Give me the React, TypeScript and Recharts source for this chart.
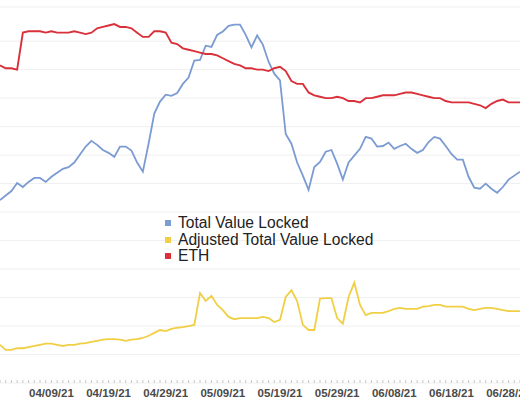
import { LineChart, Line, XAxis, YAxis, CartesianGrid, Legend } from 'recharts';

// daily dates 03/31/21 .. 06/30/21
const startDate = new Date(2021, 2, 31);
const dates: string[] = Array.from({ length: 92 }, (_, i) => {
  const d = new Date(startDate.getFullYear(), startDate.getMonth(), startDate.getDate() + i);
  const mm = String(d.getMonth() + 1).padStart(2, '0');
  const dd = String(d.getDate()).padStart(2, '0');
  return `${mm}/${dd}/21`;
});

const tickLabels = ['04/09/21', '04/19/21', '04/29/21', '05/09/21', '05/19/21', '05/29/21', '06/08/21', '06/18/21', '06/28/21'];

const seriesNames = ['Total Value Locked', 'Adjusted Total Value Locked', 'ETH'];

// $B
const tvl = [
  3.21, 3.29, 3.37, 3.51, 3.44, 3.53, 3.60, 3.60, 3.53, 3.62,
  3.69, 3.76, 3.79, 3.87, 4.01, 4.15, 4.25, 4.18, 4.09, 4.04,
  3.97, 4.15, 4.15, 4.08, 3.87, 3.71, 4.20, 4.73, 4.94, 5.06,
  5.04, 5.09, 5.25, 5.36, 5.66, 5.67, 5.92, 5.90, 6.11, 6.17,
  6.27, 6.29, 6.29, 6.11, 5.89, 6.10, 5.94, 5.64, 5.43, 5.31,
  4.37, 4.20, 3.87, 3.64, 3.39, 3.79, 3.88, 4.06, 4.09, 3.85,
  3.57, 3.87, 3.99, 4.11, 4.32, 4.29, 4.15, 4.16, 4.22, 4.11,
  4.16, 4.20, 4.11, 4.04, 4.09, 4.23, 4.32, 4.29, 4.16, 4.02,
  3.92, 3.92, 3.62, 3.43, 3.41, 3.50, 3.41, 3.34, 3.44, 3.57,
  3.64, 3.71,
];

// $B
const adjustedTvl = [
  0.67, 0.58, 0.58, 0.61, 0.61, 0.63, 0.65, 0.67, 0.69, 0.69,
  0.67, 0.65, 0.67, 0.67, 0.69, 0.70, 0.72, 0.74, 0.76, 0.77,
  0.77, 0.76, 0.74, 0.76, 0.77, 0.79, 0.83, 0.88, 0.93, 0.91,
  0.95, 0.97, 0.98, 1.00, 1.02, 1.58, 1.44, 1.53, 1.37, 1.28,
  1.16, 1.12, 1.14, 1.14, 1.14, 1.14, 1.16, 1.14, 1.07, 1.11,
  1.51, 1.63, 1.44, 1.02, 0.93, 0.93, 1.48, 1.49, 1.49, 1.14,
  1.04, 1.51, 1.76, 1.37, 1.19, 1.23, 1.23, 1.23, 1.26, 1.30,
  1.32, 1.30, 1.30, 1.30, 1.34, 1.35, 1.37, 1.37, 1.34, 1.34,
  1.34, 1.34, 1.30, 1.28, 1.30, 1.32, 1.32, 1.30, 1.28, 1.26,
  1.26, 1.26,
];

// M ETH
const eth = [
  2.23, 2.21, 2.21, 2.20, 2.46, 2.47, 2.47, 2.47, 2.46, 2.47,
  2.46, 2.46, 2.46, 2.47, 2.46, 2.45, 2.46, 2.49, 2.50, 2.51,
  2.52, 2.50, 2.50, 2.49, 2.46, 2.43, 2.43, 2.47, 2.47, 2.46,
  2.39, 2.38, 2.35, 2.34, 2.33, 2.32, 2.31, 2.31, 2.30, 2.28,
  2.26, 2.24, 2.23, 2.21, 2.21, 2.20, 2.20, 2.19, 2.21, 2.22,
  2.19, 2.12, 2.10, 2.10, 2.04, 2.02, 2.01, 2.00, 2.00, 2.01,
  2.00, 1.98, 1.98, 1.97, 2.00, 2.00, 2.01, 2.02, 2.02, 2.02,
  2.03, 2.04, 2.04, 2.03, 2.02, 2.01, 2.00, 2.00, 1.98, 1.97,
  1.97, 1.97, 1.97, 1.96, 1.95, 1.93, 1.96, 1.98, 1.99, 1.97,
  1.97, 1.97,
];

const usdTicks = [0, 0.5, 1, 1.5, 2, 2.5, 3, 3.5, 4, 4.5, 5, 5.5, 6, 6.5, 6.6];

const data = dates.map((date, i) => ({
  date,
  tvl: tvl[i],
  adjusted: adjustedTvl[i],
  eth: eth[i],
}));

const font = '"Liberation Sans", Arial, Helvetica, sans-serif';

const DateTick = (props: any) => {
  const { x, y, payload } = props;
  const showLabel = tickLabels.includes(payload.value);
  return (
    <g>
      <line x1={x} x2={x} y1={y - 3} y2={y} stroke="#c8c8c8" strokeWidth={1} />
      {showLabel && (
        <text x={x} y={y + 14} textAnchor="middle" fontSize={11.5} fontWeight={600} fill="#4a4a4a" fontFamily={font}>
          {payload.value}
        </text>
      )}
    </g>
  );
};

const LegendBox = (props: any) => {
  const items = [...(props.payload || [])].sort(
    (a: any, b: any) => seriesNames.indexOf(a.value) - seriesNames.indexOf(b.value)
  );
  return (
    <div style={{ fontFamily: font, fontSize: 15.6, color: '#222', lineHeight: '16.5px' }}>
      {items.map((entry: any) => (
        <div key={entry.value} style={{ display: 'flex', alignItems: 'center' }}>
          <span style={{ width: 6, height: 6, background: entry.color, marginRight: 7, display: 'inline-block' }} />
          {entry.value}
        </div>
      ))}
    </div>
  );
};

export default function App() {
  return (
    <div style={{ position: 'fixed', left: 0, top: 0, width: 520, height: 400, background: '#fff' }}>
      <LineChart width={520} height={400} data={data} margin={{ top: 7, right: 0, bottom: 0, left: 0 }}>
        <CartesianGrid vertical={false} stroke="#efefef" yAxisId="usd" />
        <XAxis
          dataKey="date"
          interval={0}
          axisLine={false}
          tickLine={false}
          tickSize={0}
          tickMargin={0}
          height={17}
          tick={<DateTick />}
        />
        <YAxis yAxisId="usd" hide domain={[0, 6.6]} ticks={usdTicks} />
        <YAxis yAxisId="eth" hide orientation="right" domain={[0, 2.64]} />
        <Legend
          layout="vertical"
          align="center"
          verticalAlign="middle"
          itemSorter={null}
          content={<LegendBox />}
          wrapperStyle={{ left: 165, top: 215, width: 240 }}
        />
        <Line
          yAxisId="usd"
          type="linear"
          dataKey="tvl"
          name={seriesNames[0]}
          stroke="#7b9bd3"
          strokeWidth={1.8}
          dot={false}
          legendType="square"
          isAnimationActive={false}
        />
        <Line
          yAxisId="usd"
          type="linear"
          dataKey="adjusted"
          name={seriesNames[1]}
          stroke="#f1cf45"
          strokeWidth={1.8}
          dot={false}
          legendType="square"
          isAnimationActive={false}
        />
        <Line
          yAxisId="eth"
          type="linear"
          dataKey="eth"
          name={seriesNames[2]}
          stroke="#d9303a"
          strokeWidth={1.9}
          dot={false}
          legendType="square"
          isAnimationActive={false}
        />
      </LineChart>
    </div>
  );
}
